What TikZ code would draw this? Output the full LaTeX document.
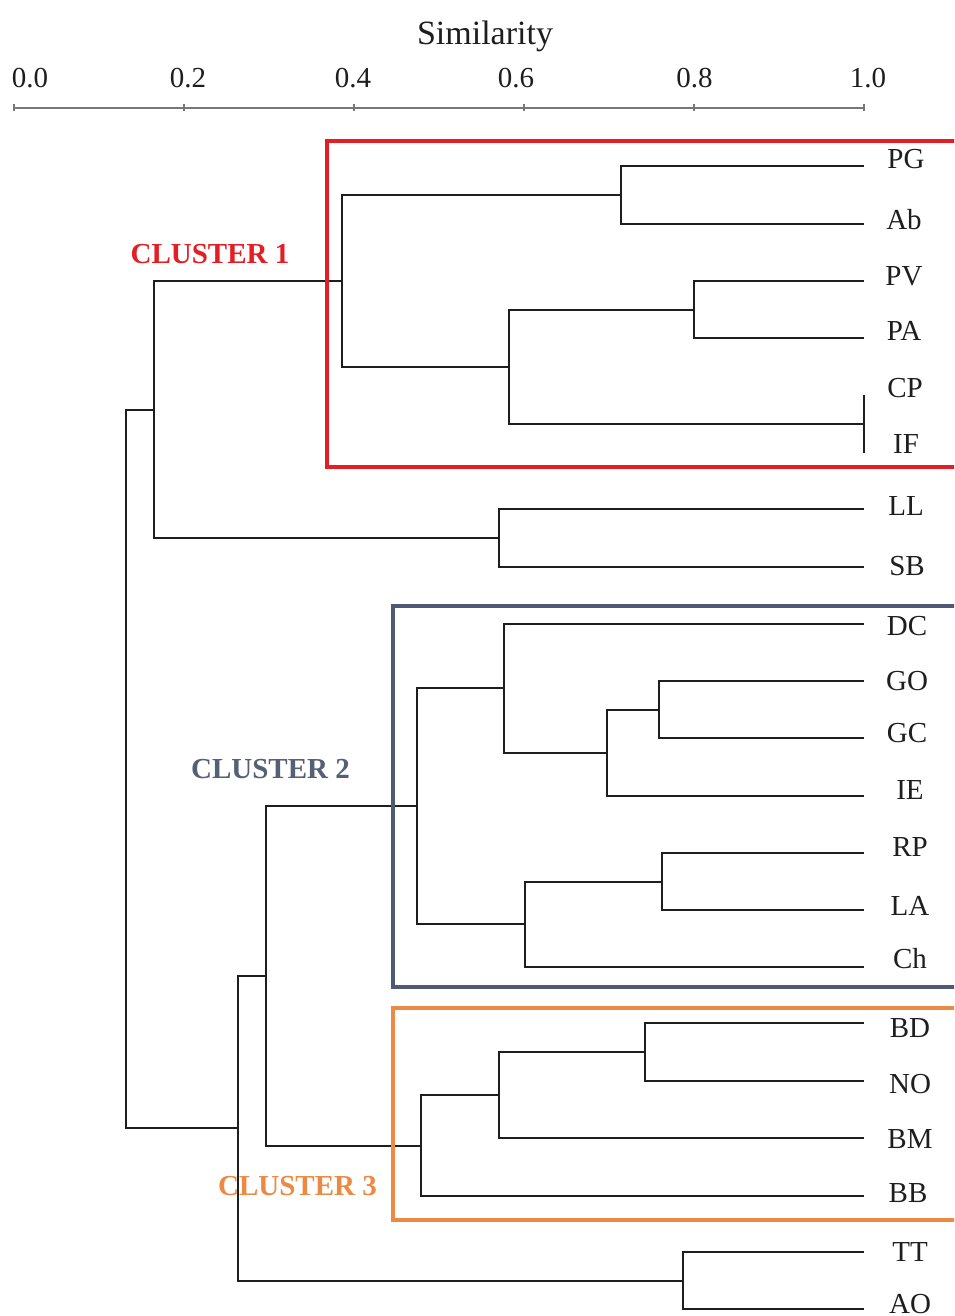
\documentclass[tikz,border=0pt]{standalone}
\usepackage{fontspec}
\setmainfont{Liberation Serif}
\definecolor{cred}{RGB}{227,30,36}
\definecolor{cblue}{RGB}{78,90,118}
\definecolor{cblueT}{RGB}{85,96,118}
\definecolor{corange}{RGB}{236,138,67}
\definecolor{axisgray}{RGB}{120,120,120}
\definecolor{ink}{RGB}{30,30,30}
\begin{document}
\begin{tikzpicture}[x=1pt,y=-1pt,
  br/.style={draw=ink, line width=2pt},
  axisline/.style={draw=axisgray, line width=1.6pt},
  leaf/.style={font=\fontsize{29}{29}\selectfont, anchor=base, text=ink, inner sep=0pt},
  ticklab/.style={font=\fontsize{29}{29}\selectfont, anchor=base, text=ink, inner sep=0pt},
  clab/.style={font=\bfseries\fontsize{29}{29}\selectfont, anchor=base, inner sep=0pt},
  cbox/.style={line width=3.6pt}]
\fill[white] (0,0) rectangle (954,1316);
\clip (0,0) rectangle (954,1316);

% axis
\node[font=\fontsize{34}{34}\selectfont, anchor=base, text=ink, inner sep=0pt] (title) at (485,45) {Similarity};
\coordinate (a0) at (14,108);
\coordinate (a10) at (864,108);
\draw[axisline] (a0) -- (a10);
\foreach \x in {14,184,354,524,694,864} {\draw[axisline] (\x,104) -- (\x,111);}
\node[ticklab] (t0) at (30,88) {0.0};
\node[ticklab] (t2) at (188,88) {0.2};
\node[ticklab] (t4) at (353,88) {0.4};
\node[ticklab] (t6) at (516,88) {0.6};
\node[ticklab] (t8) at (694.5,88) {0.8};
\node[ticklab] (t10) at (868,88) {1.0};

% cluster labels
\node[clab, text=cred] (c1) at (210,263) {CLUSTER 1};
\node[clab, text=cblueT] (c2) at (270.5,778) {CLUSTER 2};
\node[clab, text=corange] (c3) at (297.5,1195) {CLUSTER 3};

% leaves (line ends)
\coordinate (PG) at (864,166);
\coordinate (Ab) at (864,224);
\coordinate (PV) at (864,281);
\coordinate (PA) at (864,338);
\coordinate (CP) at (864,395);
\coordinate (IF) at (864,453);
\coordinate (LL) at (864,509);
\coordinate (SB) at (864,567);
\coordinate (DC) at (864,624);
\coordinate (GO) at (864,681);
\coordinate (GC) at (864,738);
\coordinate (IE) at (864,796);
\coordinate (RP) at (864,853);
\coordinate (LA) at (864,910);
\coordinate (Ch) at (864,967);
\coordinate (BD) at (864,1023);
\coordinate (NO) at (864,1081);
\coordinate (BM) at (864,1138);
\coordinate (BB) at (864,1196);
\coordinate (TT) at (864,1252);
\coordinate (AO) at (864,1309);

% leaf labels
\node[leaf] (lPG) at (906,168) {PG};
\node[leaf] (lAb) at (904,229) {Ab};
\node[leaf] (lPV) at (904,285) {PV};
\node[leaf] (lPA) at (904,340) {PA};
\node[leaf] (lCP) at (905,397) {CP};
\node[leaf] (lIF) at (906,453) {IF};
\node[leaf] (lLL) at (906,515) {LL};
\node[leaf] (lSB) at (907,575) {SB};
\node[leaf] (lDC) at (907,635) {DC};
\node[leaf] (lGO) at (907,690) {GO};
\node[leaf] (lGC) at (907,742) {GC};
\node[leaf] (lIE) at (910,799) {IE};
\node[leaf] (lRP) at (910,856) {RP};
\node[leaf] (lLA) at (910,915) {LA};
\node[leaf] (lCh) at (910,968) {Ch};
\node[leaf] (lBD) at (910,1037) {BD};
\node[leaf] (lNO) at (910,1093) {NO};
\node[leaf] (lBM) at (910,1148) {BM};
\node[leaf] (lBB) at (908,1202) {BB};
\node[leaf] (lTT) at (910,1261) {TT};
\node[leaf] (lAO) at (910,1313) {AO};

% joins
\coordinate (j1) at (621,195);
\coordinate (j2) at (694,309.5);
\coordinate (j3) at (864,424);
\coordinate (j4) at (509,366.75);
\coordinate (j5) at (342,281);
\coordinate (j6) at (499,538);
\coordinate (j7) at (154,409.5);
\coordinate (j8) at (659,709.5);
\coordinate (j9) at (607,752.75);
\coordinate (j10) at (504,688.4);
\coordinate (j11) at (662,881.5);
\coordinate (j12) at (525,924.25);
\coordinate (j13) at (417,806.3);
\coordinate (j14) at (645,1052);
\coordinate (j15) at (499,1095);
\coordinate (j16) at (421,1145.5);
\coordinate (j17) at (266,975.9);
\coordinate (j18) at (683,1280.5);
\coordinate (j19) at (238,1128.2);
\coordinate (j20) at (126,768.9);

% branches
\draw[br] (j1) |- (PG); \draw[br] (j1) |- (Ab);
\draw[br] (j2) |- (PV); \draw[br] (j2) |- (PA);
\draw[br] (j3) |- (CP); \draw[br] (j3) |- (IF);
\draw[br] (j4) |- (j2); \draw[br] (j4) |- (j3);
\draw[br] (j5) |- (j1); \draw[br] (j5) |- (j4);
\draw[br] (j6) |- (LL); \draw[br] (j6) |- (SB);
\draw[br] (j7) |- (j5); \draw[br] (j7) |- (j6);
\draw[br] (j8) |- (GO); \draw[br] (j8) |- (GC);
\draw[br] (j9) |- (j8); \draw[br] (j9) |- (IE);
\draw[br] (j10) |- (DC); \draw[br] (j10) |- (j9);
\draw[br] (j11) |- (RP); \draw[br] (j11) |- (LA);
\draw[br] (j12) |- (j11); \draw[br] (j12) |- (Ch);
\draw[br] (j13) |- (j10); \draw[br] (j13) |- (j12);
\draw[br] (j14) |- (BD); \draw[br] (j14) |- (NO);
\draw[br] (j15) |- (j14); \draw[br] (j15) |- (BM);
\draw[br] (j16) |- (j15); \draw[br] (j16) |- (BB);
\draw[br] (j17) |- (j13); \draw[br] (j17) |- (j16);
\draw[br] (j18) |- (TT); \draw[br] (j18) |- (AO);
\draw[br] (j19) |- (j17); \draw[br] (j19) |- (j18);
\draw[br] (j20) |- (j7); \draw[br] (j20) |- (j19);

% cluster boxes
\draw[cbox, draw=cred] (327,141) rectangle (975,467);
\draw[cbox, draw=cblue] (393,606) rectangle (975,987);
\draw[cbox, draw=corange] (393,1008) rectangle (975,1220);
\end{tikzpicture}
\end{document}
